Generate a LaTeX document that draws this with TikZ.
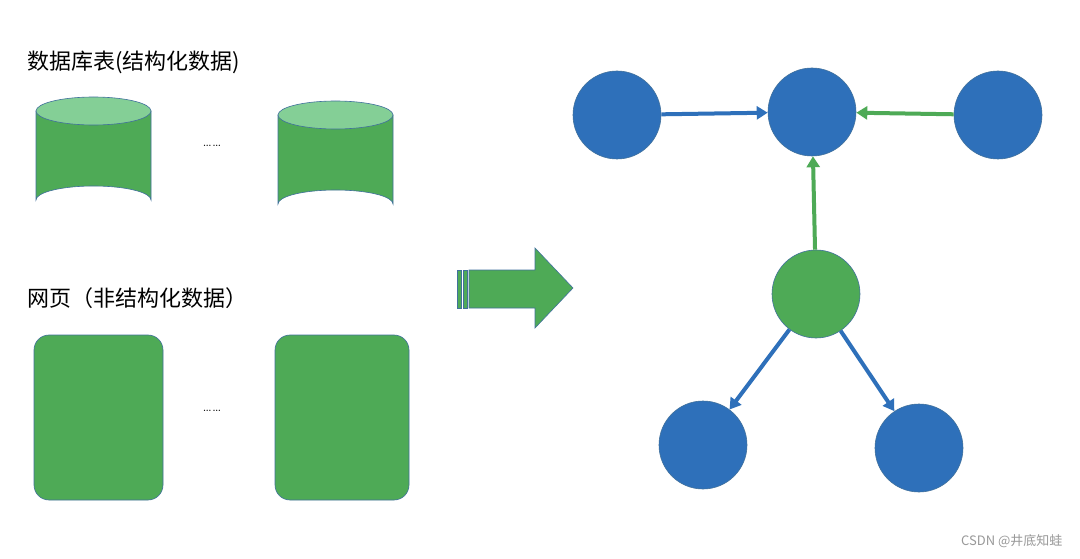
\documentclass[tikz,border=0pt]{standalone}
\usepackage{fontspec}
\newfontfamily\cjk{Noto Sans CJK SC}
\usetikzlibrary{arrows.meta}
\definecolor{gr}{HTML}{4EAA56}
\definecolor{grtop}{HTML}{84CF96}
\definecolor{bl}{HTML}{2E70BA}
\definecolor{edge}{HTML}{41719C}
\begin{document}
\begin{tikzpicture}[x=1pt,y=-1pt,
  bnode/.style={circle,fill=bl,draw=edge,line width=0.6pt,minimum size=88pt,inner sep=0pt},
  gnode/.style={circle,fill=gr,draw=edge,line width=0.6pt,minimum size=88pt,inner sep=0pt},
  barr/.style={draw=bl,line width=4pt,-{Triangle[length=11pt,width=13pt]}},
  garr/.style={draw=gr,line width=4pt,-{Triangle[length=11pt,width=13pt]}},
  page/.style={fill=gr,draw=edge,line width=0.6pt,rounded corners=15pt},
  lbl/.style={font=\cjk\fontsize{22}{26}\selectfont,anchor=west,inner sep=0pt}]
\useasboundingbox (0,0) rectangle (1080,559);
\fill[white] (0,0) rectangle (1080,559);
\node[lbl] (t1) at (27,62) {数据库表(结构化数据)};
\node[lbl] (t2) at (27,298) {网页（非结构化数据）};
% cylinders
\foreach \x/\yt/\yb in {36/111/200, 278/115/204}{
  \fill[gr,draw=edge,line width=0.6pt] (\x,\yt) -- (\x,\yb) arc[start angle=180,end angle=360,x radius=57.5pt,y radius=-14pt] -- (\x+115,\yt) -- cycle;
  \filldraw[fill=grtop,draw=edge,line width=0.6pt] (\x+57.5,\yt) ellipse[x radius=57.5pt,y radius=14pt];
}
\node[font=\fontsize{16}{18}\selectfont] (d1) at (212,146) {\ldots\ldots};
\node[font=\fontsize{16}{18}\selectfont] (d2) at (212,411) {\ldots\ldots};
\draw[page] (34,335) rectangle (163,500);
\draw[page] (275,335) rectangle (409,500);
% big arrow
\filldraw[fill=gr,draw=edge,line width=0.6pt] (457,270) rectangle (461,308);
\filldraw[fill=gr,draw=edge,line width=0.6pt] (463,270) rectangle (467,308);
\filldraw[fill=gr,draw=edge,line width=0.6pt] (469,270) -- (535,270) -- (535,248) -- (573,288) -- (535,328) -- (535,308) -- (469,308) -- cycle;
% graph
\node[bnode] (a) at (617,115) {};
\node[bnode] (b) at (812,112) {};
\node[bnode] (c) at (998,115) {};
\node[gnode] (g) at (816,294) {};
\node[bnode] (d) at (703,445) {};
\node[bnode] (e) at (919,448) {};
\draw[barr] (a) -- (b);
\draw[garr] (c) -- (b);
\draw[garr] (g) -- (b);
\draw[barr] (g) -- (d);
\draw[barr] (g) -- (e);
\node[font=\cjk\fontsize{13}{15}\selectfont,text=gray!80,anchor=east] (w) at (1066,541) {CSDN @井底知蛙};
\end{tikzpicture}
\end{document}
